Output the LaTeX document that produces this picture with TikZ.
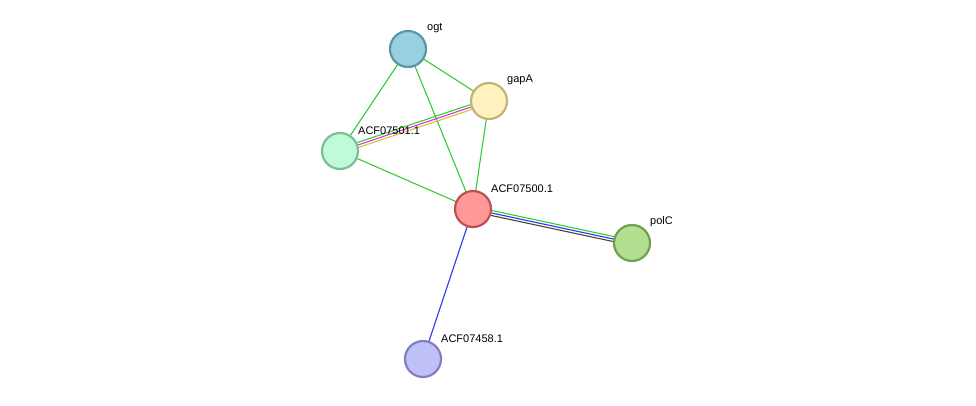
\documentclass[tikz,border=0pt]{standalone}
\usepackage{fontspec}
\setmainfont{Liberation Sans}
\usetikzlibrary{calc}
\definecolor{eg}{HTML}{33CC33}
\definecolor{eb}{HTML}{3333EE}
\definecolor{ek}{HTML}{444444}
\definecolor{ey}{HTML}{CCCC33}
\definecolor{em}{HTML}{DD33DD}
\begin{document}
\begin{tikzpicture}[x=1pt,y=-1pt,
  prot/.style={circle,minimum size=36pt,inner sep=0pt,line width=2.2pt},
  lab/.style={font=\fontsize{11}{12}\selectfont,anchor=south west,inner sep=0pt},
  e/.style={line width=1.1pt}]
\useasboundingbox (0,0) rectangle (976,405);
\coordinate (ogt) at (408,49);
\coordinate (gap) at (489,101);
\coordinate (a01) at (340,151);
\coordinate (a00) at (473,209);
\coordinate (pol) at (632,243);
\coordinate (a58) at (423,359);
\draw[e,eg] (ogt) -- (gap);
\draw[e,eg] (ogt) -- (a01);
\draw[e,eg] (ogt) -- (a00);
\draw[e,eg] (gap) -- (a00);
\draw[e,eg] (a01) -- (a00);
\draw[e,eb] (a00) -- (a58);
\draw[e,ey] ($(a01)!2.5pt!-90:(gap)$) -- ($(gap)!2.5pt!90:(a01)$);
\draw[e,em] (a01) -- (gap);
\draw[e,eg] ($(a01)!2.5pt!90:(gap)$) -- ($(gap)!2.5pt!-90:(a01)$);
\draw[e,ek] ($(a00)!2.5pt!-90:(pol)$) -- ($(pol)!2.5pt!90:(a00)$);
\draw[e,eb] (a00) -- (pol);
\draw[e,eg] ($(a00)!2.5pt!90:(pol)$) -- ($(pol)!2.5pt!-90:(a00)$);
\node[prot,fill={rgb,255:red,153;green,208;blue,224},draw={rgb,255:red,90;green,150;blue,165}] (nogt) at (ogt) {};
\node[prot,fill={rgb,255:red,255;green,242;blue,191},draw={rgb,255:red,195;green,180;blue,125}] (ngap) at (gap) {};
\node[prot,fill={rgb,255:red,192;green,250;blue,216},draw={rgb,255:red,125;green,190;blue,150}] (na01) at (a01) {};
\node[prot,fill={rgb,255:red,255;green,153;blue,153},draw={rgb,255:red,192;green,80;blue,80}] (na00) at (a00) {};
\node[prot,fill={rgb,255:red,179;green,223;blue,144},draw={rgb,255:red,112;green,160;blue,80}] (npol) at (pol) {};
\node[prot,fill={rgb,255:red,192;green,192;blue,248},draw={rgb,255:red,128;green,128;blue,192}] (na58) at (a58) {};
\node[lab] (lo) at (427,33) {ogt};
\node[lab] (lg) at (507,85) {gapA};
\node[lab] (l1) at (358,135) {ACF07501.1};
\node[lab] (l0) at (491,193) {ACF07500.1};
\node[lab] (lp) at (650,227) {polC};
\node[lab] (l5) at (441,343) {ACF07458.1};
\end{tikzpicture}
\end{document}
